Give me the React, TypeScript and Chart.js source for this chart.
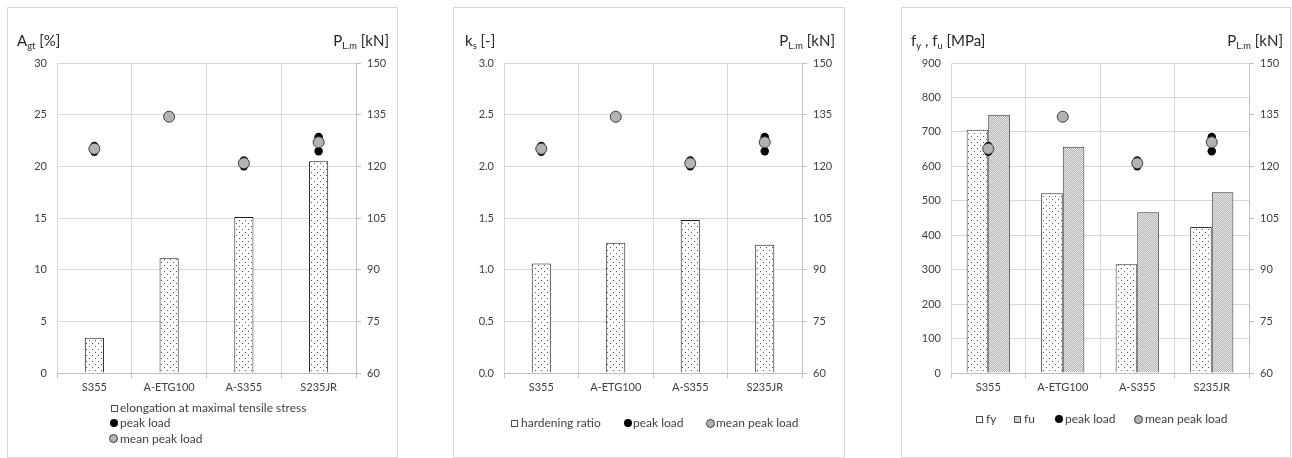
import React, { useEffect, useRef } from "react";
import { Chart, registerables } from "chart.js";

Chart.register(...registerables);

// ---------- data ----------
const categories = ["S355", "A-ETG100", "A-S355", "S235JR"];
const elongation = [3.4, 11.1, 15.1, 20.5];
const hardeningRatio = [1.06, 1.26, 1.48, 1.24];
const fyValues = [706, 522, 316, 424];
const fuValues = [750, 657, 467, 525];
const peakLoadsS355 = [125.9, 125.3, 124.2];
const peakLoadsAETG100 = [134.4];
const peakLoadsAS355 = [121.7, 121.0, 120.0];
const peakLoadsS235JR = [128.5, 128.1, 124.4];
const meanPeakLoad = [125.1, 134.4, 120.9, 127.0];
const ticksAgt = [0, 5, 10, 15, 20, 25, 30];
const ticksKs = [0, 0.5, 1.0, 1.5, 2.0, 2.5, 3.0];
const ticksF = [0, 100, 200, 300, 400, 500, 600, 700, 800, 900];
const ticksPL = [60, 75, 90, 105, 120, 135, 150];

const FONT = "Lato, 'Noto Sans', sans-serif";
Chart.defaults.font.family = FONT;

const AREA_TOP = 63;
const AREA_BOTTOM = 373;
const H = 458;

function dotPattern(): CanvasPattern | string {
  const c = document.createElement("canvas");
  c.width = 6;
  c.height = 6;
  const g = c.getContext("2d")!;
  g.fillStyle = "#ffffff";
  g.fillRect(0, 0, 6, 6);
  g.fillStyle = "#555555";
  g.fillRect(1, 1, 1, 1);
  g.fillRect(4, 4, 1, 1);
  return g.createPattern(c, "repeat") || "#fff";
}

function stipplePattern(): CanvasPattern | string {
  const c = document.createElement("canvas");
  c.width = 2;
  c.height = 2;
  const g = c.getContext("2d")!;
  g.fillStyle = "#e8e8e8";
  g.fillRect(0, 0, 2, 2);
  g.fillStyle = "#b4b4b4";
  g.fillRect(0, 0, 1, 1);
  g.fillRect(1, 1, 1, 1);
  return g.createPattern(c, "repeat") || "#ccc";
}

type BarSpec = { label: string; data: number[]; fill: "dots" | "stipple"; border: string };

type PanelSpec = {
  frameLeft: number;
  frameRight: number;
  areaLeft: number;
  areaRight: number;
  bars: BarSpec[];
  barPercentage: number;
  categoryPercentage: number;
  leftTicks: number[];
  leftDecimals: number;
};

const panels: PanelSpec[] = [
  {
    frameLeft: 7,
    frameRight: 397,
    areaLeft: 57,
    areaRight: 356,
    bars: [{ label: "elongation at maximal tensile stress", data: elongation, fill: "dots", border: "#1a1a1a" }],
    barPercentage: 0.32,
    categoryPercentage: 0.8,
    leftTicks: ticksAgt,
    leftDecimals: 0,
  },
  {
    frameLeft: 453,
    frameRight: 844,
    areaLeft: 504,
    areaRight: 802,
    bars: [{ label: "hardening ratio", data: hardeningRatio, fill: "dots", border: "#1a1a1a" }],
    barPercentage: 0.32,
    categoryPercentage: 0.8,
    leftTicks: ticksKs,
    leftDecimals: 1,
  },
  {
    frameLeft: 901,
    frameRight: 1290,
    areaLeft: 951,
    areaRight: 1249,
    bars: [
      { label: "fy", data: fyValues, fill: "dots", border: "#333333" },
      { label: "fu", data: fuValues, fill: "stipple", border: "#333333" },
    ],
    barPercentage: 1.0,
    categoryPercentage: 0.58,
    leftTicks: ticksF,
    leftDecimals: 0,
  },
];

function peakPoints() {
  const groups = [peakLoadsS355, peakLoadsAETG100, peakLoadsAS355, peakLoadsS235JR];
  const pts: { x: string; y: number }[] = [];
  groups.forEach((g, i) => g.forEach((v) => pts.push({ x: categories[i], y: v })));
  return pts;
}

function PanelChart({ spec }: { spec: PanelSpec }) {
  const ref = useRef<HTMLCanvasElement | null>(null);
  const W = spec.frameRight - spec.frameLeft;
  useEffect(() => {
    const canvas = ref.current!;
    const tickFont = { family: FONT, size: 11 };
    const chart = new Chart(canvas, {
      type: "bar",
      data: {
        labels: categories,
        datasets: [
          {
            type: "line",
            label: "mean peak load",
            data: meanPeakLoad.map((v, i) => ({ x: categories[i], y: v })),
            yAxisID: "y1",
            showLine: false,
            pointRadius: 5.5,
            pointBackgroundColor: "#b3b3b3",
            pointBorderColor: "#3a3a3a",
            pointBorderWidth: 1,
            order: 0,
          } as any,
          {
            type: "line",
            label: "peak load",
            data: peakPoints(),
            yAxisID: "y1",
            showLine: false,
            pointRadius: 4.2,
            pointBackgroundColor: "#000000",
            pointBorderColor: "#000000",
            pointBorderWidth: 0,
            order: 1,
          } as any,
          ...spec.bars.map((b) => ({
            type: "bar",
            label: b.label,
            data: b.data,
            yAxisID: "y",
            backgroundColor: b.fill === "dots" ? dotPattern() : stipplePattern(),
            borderColor: b.border,
            borderWidth: 1,
            barPercentage: spec.barPercentage,
            categoryPercentage: spec.categoryPercentage,
            order: 2,
          })),
        ] as any,
      },
      options: {
        responsive: false,
        animation: false,
        devicePixelRatio: 1,
        layout: { padding: { top: AREA_TOP, left: 0, right: 0, bottom: 0 } },
        plugins: { legend: { display: false }, tooltip: { enabled: false } },
        scales: {
          x: {
            offset: true,
            grid: { color: "#d9d9d9", tickColor: "#bfbfbf", tickLength: 5, offset: true },
            border: { color: "#bfbfbf" },
            ticks: { font: tickFont, color: "#404040", padding: 3, maxRotation: 0, autoSkip: false },
            afterFit: (s: any) => {
              s.height = H - AREA_BOTTOM;
            },
          },
          y: {
            position: "left",
            min: spec.leftTicks[0],
            max: spec.leftTicks[spec.leftTicks.length - 1],
            grid: { color: "#d9d9d9", drawTicks: false },
            border: { display: false },
            ticks: {
              font: tickFont,
              color: "#404040",
              padding: 10,
              callback: (v: any) => Number(v).toFixed(spec.leftDecimals),
            },
            afterBuildTicks: (s: any) => {
              s.ticks = spec.leftTicks.map((v) => ({ value: v }));
            },
            afterFit: (s: any) => {
              s.width = spec.areaLeft - spec.frameLeft;
            },
          },
          y1: {
            position: "right",
            min: ticksPL[0],
            max: ticksPL[ticksPL.length - 1],
            grid: { drawOnChartArea: false, tickLength: 5, color: "#bfbfbf" },
            border: { color: "#bfbfbf" },
            ticks: { font: tickFont, color: "#404040", padding: 6 },
            afterBuildTicks: (s: any) => {
              s.ticks = ticksPL.map((v) => ({ value: v }));
            },
            afterFit: (s: any) => {
              s.width = spec.frameRight - spec.areaRight;
            },
          },
        },
      } as any,
    });
    return () => chart.destroy();
  }, [spec]);
  return (
    <>
      <div
        style={{
          position: "absolute",
          left: spec.frameLeft,
          top: 7,
          width: W + 1,
          height: 451,
          border: "1px solid #d9d9d9",
          boxSizing: "border-box",
        }}
      />
      <canvas
        ref={ref}
        width={W}
        height={H}
        style={{ position: "absolute", left: spec.frameLeft, top: 0, width: W, height: H }}
      />
    </>
  );
}

const subStyle: React.CSSProperties = { fontSize: "0.62em", verticalAlign: "-0.28em" };
const titleStyle: React.CSSProperties = {
  position: "absolute",
  top: 33,
  fontFamily: FONT,
  fontSize: 15,
  lineHeight: "15px",
  color: "#262626",
  whiteSpace: "nowrap",
};

function PL({ right }: { right: number }) {
  return (
    <div style={{ ...titleStyle, right }}>
      P<span style={subStyle}>L.m</span> [kN]
    </div>
  );
}

type LegendItem = { kind: "dots" | "stipple" | "black" | "gray"; cx: number; cy: number; tx: number; text: string };

const legendItems: LegendItem[] = [
  { kind: "dots", cx: 114, cy: 408, tx: 120, text: "elongation at maximal tensile stress" },
  { kind: "black", cx: 113.5, cy: 423, tx: 120, text: "peak load" },
  { kind: "gray", cx: 113, cy: 438.5, tx: 120, text: "mean peak load" },
  { kind: "dots", cx: 514, cy: 423, tx: 521, text: "hardening ratio" },
  { kind: "black", cx: 627.5, cy: 423, tx: 633, text: "peak load" },
  { kind: "gray", cx: 710, cy: 423, tx: 716, text: "mean peak load" },
  { kind: "dots", cx: 979, cy: 419, tx: 986, text: "fy" },
  { kind: "stipple", cx: 1017, cy: 419, tx: 1024, text: "fu" },
  { kind: "black", cx: 1058.5, cy: 419, tx: 1065, text: "peak load" },
  { kind: "gray", cx: 1138, cy: 419, tx: 1145, text: "mean peak load" },
];

function Marker({ item }: { item: LegendItem }) {
  let size = 7;
  let style: React.CSSProperties = {};
  if (item.kind === "dots") {
    size = 7;
    style = { background: "#fff", border: "1px solid #4d4d4d" };
  } else if (item.kind === "stipple") {
    size = 7;
    style = {
      background: "repeating-conic-gradient(#b4b4b4 0 25%, #e8e8e8 0 50%) 0 0 / 2px 2px",
      border: "1px solid #4d4d4d",
    };
  } else if (item.kind === "black") {
    size = 8;
    style = { background: "#000", borderRadius: "50%" };
  } else {
    size = 9;
    style = { background: "#b3b3b3", border: "1px solid #3a3a3a", borderRadius: "50%" };
  }
  return (
    <div
      style={{
        position: "absolute",
        left: item.cx - size / 2,
        top: item.cy - size / 2,
        width: size,
        height: size,
        boxSizing: "border-box",
        ...style,
      }}
    />
  );
}

export default function App() {
  return (
    <div
      style={{
        position: "fixed",
        left: 0,
        top: 0,
        width: 1292,
        height: 458,
        background: "#ffffff",
        overflow: "hidden",
      }}
    >
      {panels.map((p, i) => (
        <PanelChart key={i} spec={p} />
      ))}
      <div style={{ ...titleStyle, left: 17 }}>
        A<span style={subStyle}>gt</span> [%]
      </div>
      <PL right={1292 - 389} />
      <div style={{ ...titleStyle, left: 465 }}>
        k<span style={subStyle}>s</span> [-]
      </div>
      <PL right={1292 - 835} />
      <div style={{ ...titleStyle, left: 911 }}>
        f<span style={subStyle}>y</span> , f<span style={subStyle}>u</span> [MPa]
      </div>
      <PL right={1292 - 1283} />
      {legendItems.map((it, i) => (
        <React.Fragment key={i}>
          <Marker item={it} />
          <div
            style={{
              position: "absolute",
              left: it.tx,
              top: it.cy - 8,
              height: 16,
              lineHeight: "16px",
              fontFamily: FONT,
              fontSize: 12,
              color: "#404040",
              whiteSpace: "nowrap",
            }}
          >
            {it.text}
          </div>
        </React.Fragment>
      ))}
    </div>
  );
}
